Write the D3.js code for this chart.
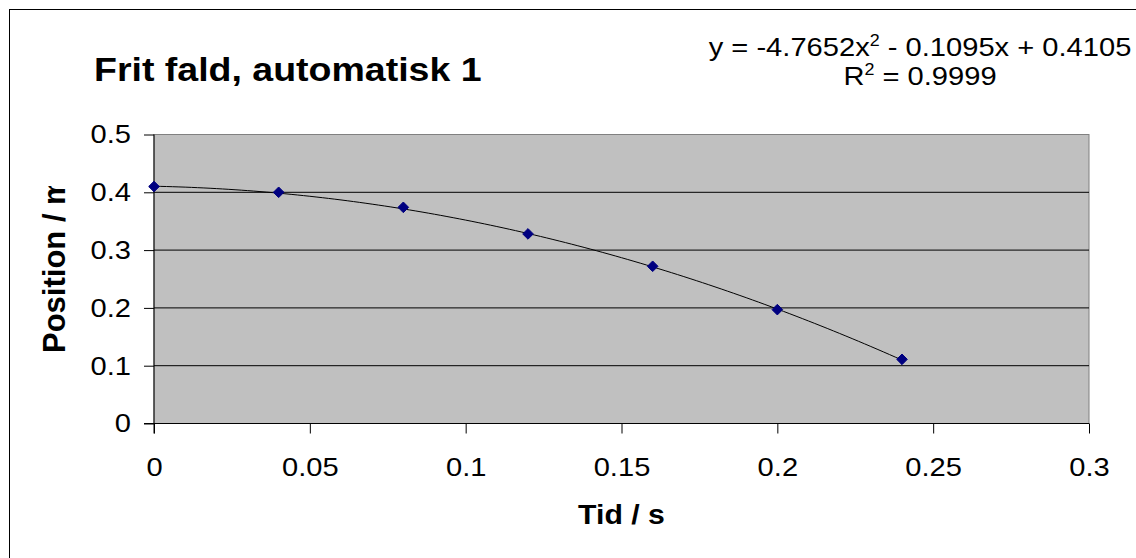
<html>

<head>
    <style>
        body { margin: 0; background: #fff; }
        text { font-family: Arial, "Liberation Sans", sans-serif; fill: #000; }
        .domain { display: none; }
    </style>
</head>

<body>
    <svg id="container" width="1136" height="558"></svg>
</body>
<script src="https://cdn.jsdelivr.net/npm/d3@7"></script>

<script>
    let times = [0, 0.04, 0.08, 0.12, 0.16, 0.2, 0.24]
    let positions = [0.410, 0.400, 0.374, 0.328, 0.272, 0.197, 0.111]
    // trendline y = a x^2 + b x + c, as printed on the chart
    let trendCoeffs = [-4.7652, -0.1095, 0.4105]
    let xTicks = [0, 0.05, 0.1, 0.15, 0.2, 0.25, 0.3]
    let yTicks = [0, 0.1, 0.2, 0.3, 0.4, 0.5]

    let svg = d3.select("#container")
    let sx = 1.12  // picture is a bit wider than tall

    let plotL = 154, plotT = 134.5, plotR = 1089, plotB = 423.5

    let x = d3.scaleLinear().domain([0, 0.3]).range([plotL, plotR])
    let y = d3.scaleLinear().domain([0, 0.5]).range([plotB, plotT])

    // outer chart border, runs off the right and bottom
    svg.append("rect")
        .attr("x", 9.5).attr("y", 9.5)
        .attr("width", 1140).attr("height", 560)
        .attr("fill", "none").attr("stroke", "#000")

    // plot area
    svg.append("rect")
        .attr("x", plotL).attr("y", plotT)
        .attr("width", plotR - plotL).attr("height", plotB - plotT)
        .attr("fill", "#c0c0c0").attr("stroke", "#808080")

    svg.append("g").selectAll("line").data(yTicks.filter(d => d > 0 && d < 0.5))
        .enter().append("line")
        .attr("x1", plotL).attr("x2", plotR)
        .attr("y1", d => y(d)).attr("y2", d => y(d))
        .attr("stroke", "#000")

    // axes
    let xAxis = svg.append("g").attr("transform", `translate(0,${plotB})`)
        .call(d3.axisBottom(x).tickValues(xTicks).tickFormat(d3.format("~g"))
            .tickSize(10).tickSizeOuter(0).tickPadding(24))
    let yAxis = svg.append("g").attr("transform", `translate(${plotL},0)`)
        .call(d3.axisLeft(y).tickValues(yTicks).tickFormat(d3.format("~g"))
            .tickSize(10).tickSizeOuter(0).tickPadding(13))

    svg.selectAll(".tick line").attr("stroke", "#000")
    svg.selectAll(".tick text").attr("font-size", 26).attr("font-family", "Arial, 'Liberation Sans', sans-serif")
    xAxis.selectAll(".tick text").attr("transform", `scale(${sx},1)`)
    yAxis.selectAll(".tick text").attr("transform", `scale(${sx},1)`).attr("x", -23 / sx)

    svg.append("line").attr("x1", plotL).attr("x2", plotL).attr("y1", plotT).attr("y2", plotB + 10).attr("stroke", "#000")
    svg.append("line").attr("x1", plotL - 10).attr("x2", plotR).attr("y1", plotB).attr("y2", plotB).attr("stroke", "#000")

    // trendline
    let trendX = d3.range(0, 0.2401, 0.002)
    let poly = t => trendCoeffs[0] * t * t + trendCoeffs[1] * t + trendCoeffs[2]
    svg.append("path")
        .datum(trendX)
        .attr("d", d3.line().x(d => x(d)).y(d => y(poly(d))))
        .attr("fill", "none").attr("stroke", "#000").attr("stroke-width", 1)

    // markers
    svg.append("g").selectAll("path").data(times)
        .enter().append("path")
        .attr("d", d3.symbol().type(d3.symbolDiamond2).size(72))
        .attr("transform", (d, i) => `translate(${x(d)},${y(positions[i])})`)
        .attr("fill", "#000080").attr("stroke", "#000080")

    // title
    svg.append("text")
        .attr("transform", `translate(94,81) scale(${sx},1)`)
        .attr("font-size", 33.5).attr("font-weight", "bold")
        .text("Frit fald, automatisk 1")

    // equation
    let eq = svg.append("text")
        .attr("transform", `translate(920,56) scale(${sx},1)`)
        .attr("text-anchor", "middle").attr("font-size", 26)
    eq.append("tspan").text("y = -4.7652x")
    eq.append("tspan").attr("dy", -10).attr("font-size", 16).text("2")
    eq.append("tspan").attr("dy", 10).text(" - 0.1095x + 0.4105")

    let r2 = svg.append("text")
        .attr("transform", `translate(920,85) scale(${sx},1)`)
        .attr("text-anchor", "middle").attr("font-size", 26)
    r2.append("tspan").text("R")
    r2.append("tspan").attr("dy", -10).attr("font-size", 16).text("2")
    r2.append("tspan").attr("dy", 10).text(" = 0.9999")

    // axis titles
    svg.append("text")
        .attr("transform", `translate(${(plotL + plotR) / 2},524) scale(${sx},1)`)
        .attr("text-anchor", "middle").attr("font-size", 27).attr("font-weight", "bold")
        .text("Tid / s")

    svg.append("clipPath").attr("id", "ylab-clip")
        .append("rect").attr("x", 0).attr("y", 186).attr("width", 120).attr("height", 300)
    svg.append("g").attr("clip-path", "url(#ylab-clip)")
        .append("text")
        .attr("transform", "translate(65,353) rotate(-90)")
        .attr("font-size", 31).attr("font-weight", "bold")
        .text("Position / m")
</script>

</html>
